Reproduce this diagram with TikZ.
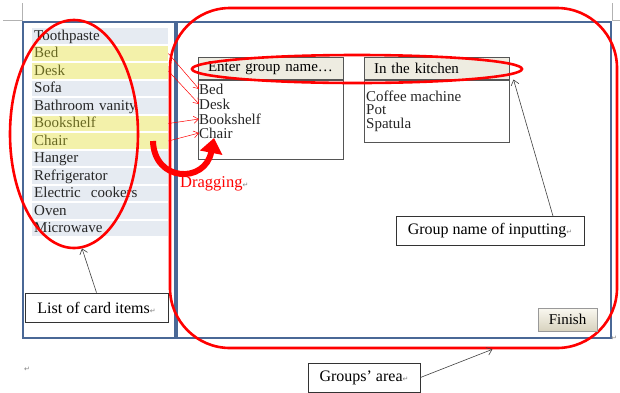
\documentclass[tikz,border=0pt]{standalone}
\usepackage{fontspec}
\setmainfont{Liberation Serif}
\newfontfamily\symfont{DejaVu Sans}
\usetikzlibrary{calc}
\usetikzlibrary{arrows.meta}
\usetikzlibrary{shapes.geometric}

\definecolor{frameblue}{RGB}{74,104,150}
\definecolor{rowgray}{RGB}{230,235,242}
\definecolor{rowyellow}{RGB}{243,241,170}
\definecolor{itemolive}{RGB}{105,105,35}
\definecolor{headfill}{RGB}{238,236,225}
\definecolor{boxgray}{RGB}{85,85,85}
\definecolor{btntop}{RGB}{250,248,240}
\definecolor{btnbottom}{RGB}{215,210,190}

\newcommand{\retmark}{{\color{gray}\symfont\fontsize{7}{7}\selectfont ↵}}

\begin{document}
\begin{tikzpicture}[x=1pt,y=-1pt,
  every node/.style={font=\fontsize{15}{15}\selectfont},
  card/.style={anchor=west, text width=132pt, inner xsep=2pt, inner ysep=0pt, text height=12pt, text depth=3.5pt, align=left},
  grouphead/.style={draw=boxgray, fill=headfill, line width=1pt, minimum height=22pt, text width=125pt, inner xsep=10pt, inner ysep=0pt, align=left},
  groupbody/.style={draw=boxgray, line width=1pt, minimum width=145pt, anchor=north, inner sep=0pt},
  member/.style={anchor=west, inner sep=0pt, text=black!85},
  ring/.style={draw=red, line width=2.6pt, inner sep=0pt},
  lbl/.style={draw=black!80, line width=0.8pt, minimum height=29pt, inner sep=0pt, font=\fontsize{16}{16}\selectfont},
  note/.style={black!75, line width=0.6pt, -{Straight Barb[length=5pt,width=8pt]}},
  dragline/.style={red, line width=0.5pt, -{Straight Barb[length=5pt,width=7pt]}},
  finishbtn/.style={draw=black!40, line width=1pt, top color=btntop, bottom color=btnbottom, minimum width=59pt, minimum height=23pt, inner sep=0pt}]

\useasboundingbox (0,0) rectangle (620,392);

% page corner marks
\draw[black!30] (3,20)--(22,20)--(22,3);
\draw[black!30] (620,20)--(612,20)--(612,3);

% the two panels
\draw[frameblue, line width=1.8pt] (23,22) rectangle (175,338);
\draw[frameblue, line width=1.8pt] (177,22) rectangle (611,338);

% card items
\foreach \name/\txt/\bg/\fg [count=\i from 0] in {tooth/Toothpaste/rowgray/black!85, bed/Bed/rowyellow/itemolive, desk/Desk/rowyellow/itemolive, sofa/Sofa/rowgray/black!85, vanity/Bathroom vanity/rowgray/black!85, shelf/Bookshelf/rowyellow/itemolive, chair/Chair/rowyellow/itemolive, hanger/Hanger/rowgray/black!85, fridge/Refrigerator/rowgray/black!85, cooker/Electric~ cookers/rowgray/black!85, oven/Oven/rowgray/black!85, micro/Microwave/rowgray/black!85}{
	\node[card, fill=\bg, text=\fg] (\name) at (32,36+17.5*\i) {\txt};
}

% group boxes
\node[grouphead] (enter) at (270.5,68) {Enter group name\dots};
\node[groupbody, minimum height=79pt] (body1) at (enter.south) {};
\node[grouphead] (khead) at (436.5,68) {In the kitchen};
\node[groupbody, minimum height=62pt] (body2) at (khead.south) {};

\node[member] (gbed) at (199,89) {Bed};
\node[member] (gdesk) at (199,104) {Desk};
\node[member] (gshelf) at (199,119) {Bookshelf};
\node[member] (gchair) at (199,133) {Chair};

\node[member] (coffee) at (366,96) {Coffee machine};
\node[member] (pot) at (366,110) {Pot};
\node[member] (spatula) at (366,125) {Spatula};

\draw[dragline] (bed.east) -- (gbed.west);
\draw[dragline] (desk.east) -- (gdesk.west);
\draw[dragline] (shelf.east) -- (gshelf.west);
\draw[dragline] (chair.east) -- (gchair.west);

% red marks
\node[ring, ellipse, minimum width=128pt, minimum height=228pt] (listring) at (74,134) {};
\node[ring, ellipse, minimum width=330pt, minimum height=28pt] (namering) at (357,69) {};
\node[ring, rectangle, rounded corners=60pt, minimum width=447pt, minimum height=340pt] (grouparea) at (393.5,178) {};

\draw[red, line width=6pt, -{Triangle[length=15pt,width=22pt]}] (153,141) .. controls (154,182) and (205,184) .. (214,138);
\node[anchor=west, inner sep=0pt, text=red, font=\fontsize{16.5}{16.5}\selectfont] (draglbl) at (180,184) {Dragging\retmark};

\node[finishbtn] (finish) at (567.5,319.5) {Finish};

% callouts
\node[lbl, minimum width=143pt] (listlbl) at (96.5,307.5) {List of card items\retmark};
\node[lbl, minimum width=188pt] (namelbl) at (490,231) {Group name of inputting\retmark};
\node[lbl, minimum width=112pt] (arealbl) at (364,377.5) {Groups' area\retmark};

\draw[note] (listlbl.north) -- (listring.-86);
\draw[note] ([xshift=63pt]namelbl.north) -- ([xshift=4pt]khead.south east);
\draw[note] (arealbl.east) -- (grouparea.-60);

\node (pm1) at (27,369) {\retmark};
\node (pm2) at (614,338) {\retmark};

\end{tikzpicture}
\end{document}
